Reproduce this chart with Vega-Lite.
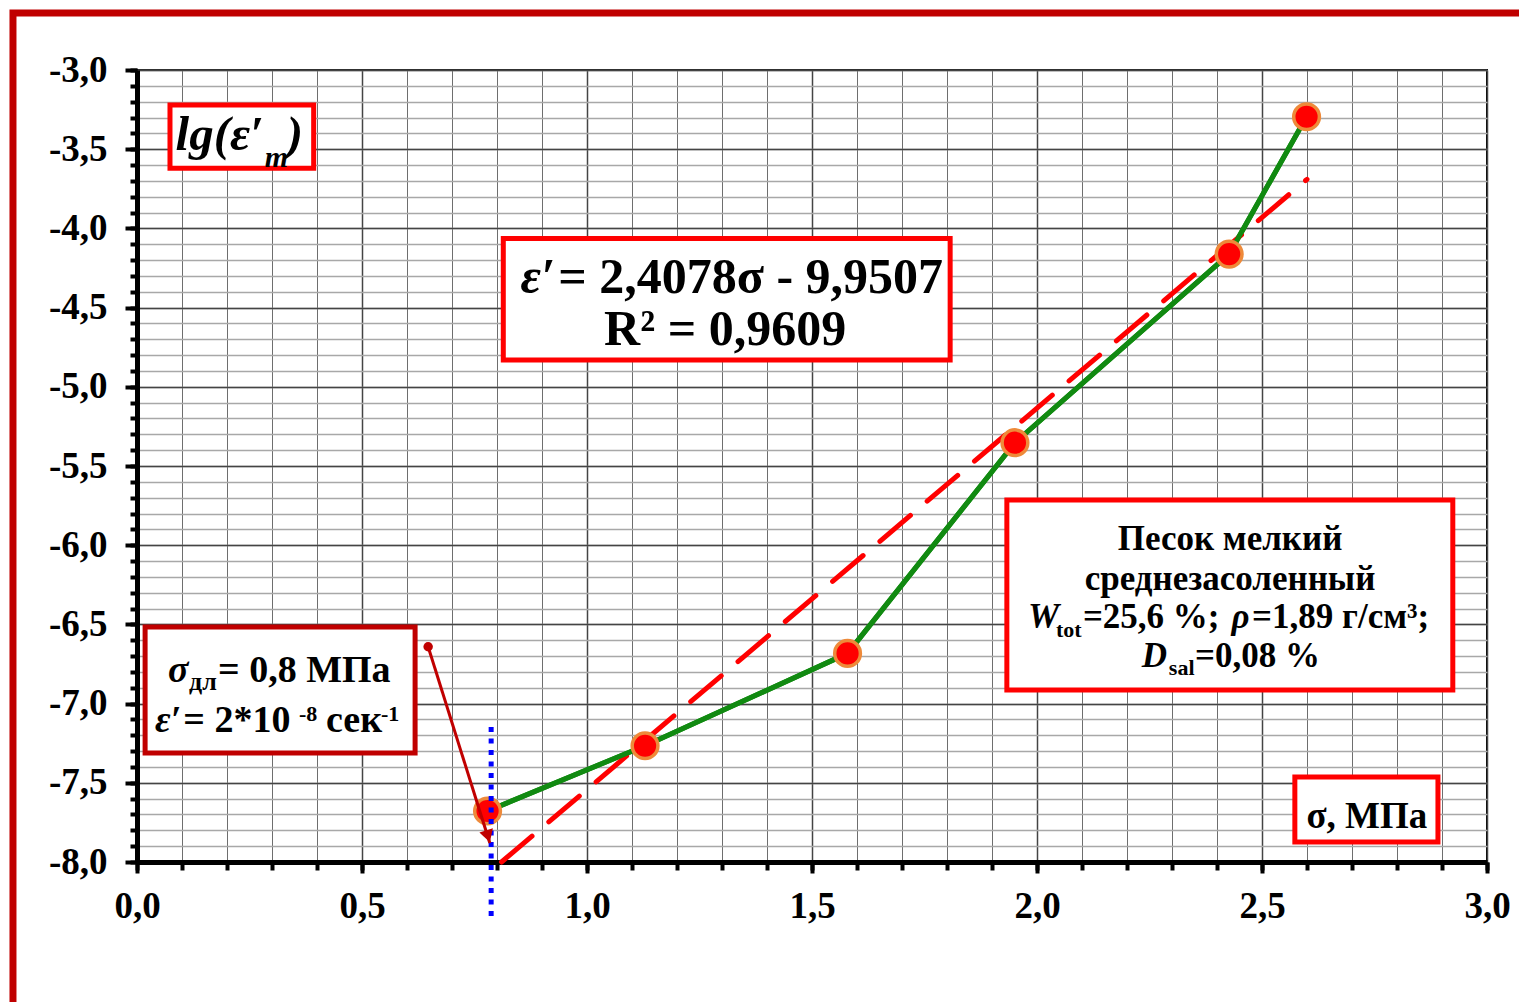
{
  "$schema": "https://vega.github.io/schema/vega-lite/v6.json",
  "width": 1350,
  "height": 792,
  "autosize": {"type": "none"},
  "padding": {"left": 137, "top": 70, "right": 32, "bottom": 140},
  "background": "white",
  "config": {
    "view": {"stroke": "#000", "strokeWidth": 2},
    "axis": {"labelFont": "Liberation Serif", "labelFontWeight": "bold", "labelFontSize": 37, "labelColor": "#000", "tickColor": "#000", "domainColor": "#000"}
  },
  "datasets": {
    "pts": [
      {"x": 0.779, "y": -7.678},
      {"x": 1.129, "y": -7.266},
      {"x": 1.579, "y": -6.683},
      {"x": 1.951, "y": -5.353},
      {"x": 2.427, "y": -4.162},
      {"x": 2.599, "y": -3.295}
    ],
    "trend": [{"x": 0.81, "y": -8.0}, {"x": 2.6, "y": -3.690}],
    "vline": [{"x": 0.787, "y": -7.148, "y2": -8.38}],
    "arrow": [{"x": 0.647, "y": -6.641, "x2": 0.784, "y2": -7.88, "hx": 0.780, "hy": -7.838}],
    "frame": [{"x": -0.2756, "x2": 3.12, "y": -2.6402, "y2": -9.1}],
    "boxes": [
      {"g": "b", "x": 0.0733, "x2": 0.3926, "y": -3.221, "y2": -3.621},
      {"g": "b", "x": 0.814, "x2": 1.807, "y": -4.063, "y2": -4.831},
      {"g": "b", "x": 1.933, "x2": 2.924, "y": -5.715, "y2": -6.914},
      {"g": "b", "x": 2.573, "x2": 2.891, "y": -7.463, "y2": -7.874},
      {"g": "d", "x": 0.018, "x2": 0.618, "y": -6.516, "y2": -7.312}
    ],
    "labels": [
      {"g": "e50L", "x": 0.936, "y": -4.408, "t": "= 2,4078σ - 9,9507"},
      {"g": "e50C", "x": 1.307, "y": -4.736, "t": "R² = 0,9609"},
      {"g": "e50IR", "x": 0.929, "y": -4.408, "t": "ε′"},
      {"g": "lgR", "x": 0.282, "y": -3.505, "t": "lg(ε′"},
      {"g": "lgL", "x": 0.333, "y": -3.505, "t": ")"},
      {"g": "lgS", "x": 0.284, "y": -3.612, "t": "m"},
      {"g": "s38I", "x": 0.0689, "y": -6.864, "t": "σ"},
      {"g": "s38I", "x": 0.04, "y": -7.179, "t": "ε′"},
      {"g": "s38", "x": 0.18, "y": -6.864, "t": "= 0,8 МПа"},
      {"g": "s38", "x": 0.103, "y": -7.179, "t": "= 2*10"},
      {"g": "s38", "x": 0.42, "y": -7.179, "t": "сек"},
      {"g": "s26", "x": 0.1156, "y": -6.914, "t": "дл"},
      {"g": "s22", "x": 0.36, "y": -7.11, "t": "-8"},
      {"g": "s22", "x": 0.542, "y": -7.11, "t": "-1"},
      {"g": "p35C", "x": 2.429, "y": -6.03, "t": "Песок мелкий"},
      {"g": "p35C", "x": 2.429, "y": -6.283, "t": "среднезасоленный"},
      {"g": "p35I", "x": 1.98, "y": -6.525, "t": "W"},
      {"g": "p35I", "x": 2.432, "y": -6.525, "t": "ρ"},
      {"g": "p35I", "x": 2.233, "y": -6.767, "t": "D"},
      {"g": "p35", "x": 2.102, "y": -6.525, "t": "=25,6 %;"},
      {"g": "p35", "x": 2.478, "y": -6.525, "t": "=1,89 г/см³;"},
      {"g": "p35", "x": 2.351, "y": -6.767, "t": "=0,08 %"},
      {"g": "p22", "x": 2.042, "y": -6.578, "t": "tot"},
      {"g": "p22", "x": 2.293, "y": -6.819, "t": "sal"},
      {"g": "u37C", "x": 2.733, "y": -7.785, "t": "σ, МПа"}
    ]
  },
  "resolve": {"axis": {"x": "independent", "y": "independent"}},
  "layer": [
    {
      "data": {"name": "frame"},
      "mark": {"type": "rect", "fill": "transparent", "stroke": "#c00000", "strokeWidth": 7, "clip": false},
      "encoding": {
        "x": {"field": "x", "type": "quantitative", "scale": {"domain": [0, 3], "nice": false, "zero": false},
          "axis": {"orient": "bottom", "values": [0,0.1,0.2,0.3,0.4,0.5,0.6,0.7,0.8,0.9,1,1.1,1.2,1.3,1.4,1.5,1.6,1.7,1.8,1.9,2,2.1,2.2,2.3,2.4,2.5,2.6,2.7,2.8,2.9,3], "tickSize": 8, "tickWidth": 4, "labels": false, "domain": false, "grid": true, "gridColor": "#6e6e6e", "gridWidth": 1, "title": null}},
        "x2": {"field": "x2"},
        "y": {"field": "y", "type": "quantitative", "scale": {"domain": [-8, -3], "nice": false, "zero": false},
          "axis": {"orient": "left", "values": [-8,-7.9,-7.8,-7.7,-7.6,-7.5,-7.4,-7.3,-7.2,-7.1,-7,-6.9,-6.8,-6.7,-6.6,-6.5,-6.4,-6.3,-6.2,-6.1,-6,-5.9,-5.8,-5.7,-5.6,-5.5,-5.4,-5.3,-5.2,-5.1,-5,-4.9,-4.8,-4.7,-4.6,-4.5,-4.4,-4.3,-4.2,-4.1,-4,-3.9,-3.8,-3.7,-3.6,-3.5,-3.4,-3.3,-3.2,-3.1,-3], "tickSize": 7, "tickWidth": 4, "labels": false, "domain": false, "grid": true, "gridColor": "#a8a8a8", "gridWidth": 1.5, "title": null}},
        "y2": {"field": "y2"}
      }
    },
    {
      "data": {"name": "pts"},
      "mark": {"type": "line", "color": "#118a11", "strokeWidth": 5},
      "encoding": {
        "x": {"field": "x", "type": "quantitative", "scale": {"domain": [0, 3], "nice": false, "zero": false},
          "axis": {"orient": "bottom", "values": [0,0.5,1,1.5,2,2.5,3], "tickSize": 11, "tickWidth": 4, "domain": true, "domainWidth": 5, "grid": true, "gridColor": "#444", "gridWidth": 1.5, "labelExpr": "replace(replace(format(datum.value,'.1f'),'.',','),'−','-')", "labelPadding": 15, "labelFlush": false, "labelOverlap": false, "title": null}},
        "y": {"field": "y", "type": "quantitative", "scale": {"domain": [-8, -3], "nice": false, "zero": false},
          "axis": {"orient": "left", "values": [-8,-7.5,-7,-6.5,-6,-5.5,-5,-4.5,-4,-3.5,-3], "tickSize": 12, "tickWidth": 4, "domain": true, "domainWidth": 5, "grid": true, "gridColor": "#444", "gridWidth": 1.5, "labelExpr": "replace(replace(format(datum.value,'.1f'),'.',','),'−','-')", "labelPadding": 18, "labelFlush": false, "labelOverlap": false, "title": null}}
      }
    },
    {
      "data": {"name": "boxes"},
      "transform": [{"filter": "datum.g == 'b'"}],
      "mark": {"type": "rect", "fill": "white", "stroke": "#ff0000", "strokeWidth": 5},
      "encoding": {
        "x": {"field": "x", "type": "quantitative", "axis": null}, "x2": {"field": "x2"},
        "y": {"field": "y", "type": "quantitative", "axis": null}, "y2": {"field": "y2"}
      }
    },
    {
      "data": {"name": "boxes"},
      "transform": [{"filter": "datum.g == 'd'"}],
      "mark": {"type": "rect", "fill": "white", "stroke": "#c00000", "strokeWidth": 5},
      "encoding": {
        "x": {"field": "x", "type": "quantitative", "axis": null}, "x2": {"field": "x2"},
        "y": {"field": "y", "type": "quantitative", "axis": null}, "y2": {"field": "y2"}
      }
    },
    {
      "data": {"name": "trend"},
      "mark": {"type": "line", "color": "#ff0000", "strokeWidth": 5, "strokeDash": [40, 22], "strokeCap": "round"},
      "encoding": {
        "x": {"field": "x", "type": "quantitative", "axis": null},
        "y": {"field": "y", "type": "quantitative", "axis": null}
      }
    },
    {
      "data": {"name": "pts"},
      "mark": {"type": "line", "color": "#118a11", "strokeWidth": 5},
      "encoding": {
        "x": {"field": "x", "type": "quantitative", "axis": null},
        "y": {"field": "y", "type": "quantitative", "axis": null}
      }
    },
    {
      "data": {"name": "pts"},
      "mark": {"type": "point", "shape": "circle", "filled": true, "fill": "#ff0000", "stroke": "#ee8a3a", "strokeWidth": 3.5, "size": 660, "opacity": 1},
      "encoding": {
        "x": {"field": "x", "type": "quantitative", "axis": null},
        "y": {"field": "y", "type": "quantitative", "axis": null}
      }
    },
    {
      "data": {"name": "vline"},
      "mark": {"type": "rule", "color": "#0000ff", "strokeWidth": 5, "strokeDash": [5, 6.5], "clip": false},
      "encoding": {
        "x": {"field": "x", "type": "quantitative", "axis": null},
        "y": {"field": "y", "type": "quantitative", "axis": null},
        "y2": {"field": "y2"}
      }
    },
    {
      "data": {"name": "arrow"},
      "mark": {"type": "rule", "color": "#c00000", "strokeWidth": 3},
      "encoding": {
        "x": {"field": "x", "type": "quantitative", "axis": null},
        "y": {"field": "y", "type": "quantitative", "axis": null},
        "x2": {"field": "x2"},
        "y2": {"field": "y2"}
      }
    },
    {
      "data": {"name": "arrow"},
      "mark": {"type": "point", "shape": "circle", "filled": true, "color": "#c00000", "size": 90, "opacity": 1},
      "encoding": {
        "x": {"field": "x", "type": "quantitative", "axis": null},
        "y": {"field": "y", "type": "quantitative", "axis": null}
      }
    },
    {
      "data": {"name": "arrow"},
      "mark": {"type": "point", "shape": "triangle-down", "filled": true, "color": "#c00000", "size": 200, "angle": 342.5, "opacity": 1},
      "encoding": {
        "x": {"field": "hx", "type": "quantitative", "axis": null},
        "y": {"field": "hy", "type": "quantitative", "axis": null}
      }
    },
    {
      "data": {"name": "labels"},
      "transform": [{"filter": "datum.g == 'e50L'"}],
      "mark": {"type": "text", "font": "Liberation Serif", "fontWeight": "bold", "fontSize": 50, "align": "left", "baseline": "alphabetic", "color": "#000"},
      "encoding": {"x": {"field": "x", "type": "quantitative", "axis": null}, "y": {"field": "y", "type": "quantitative", "axis": null}, "text": {"field": "t"}}
    },
    {
      "data": {"name": "labels"},
      "transform": [{"filter": "datum.g == 'e50C'"}],
      "mark": {"type": "text", "font": "Liberation Serif", "fontWeight": "bold", "fontSize": 50, "align": "center", "baseline": "alphabetic", "color": "#000"},
      "encoding": {"x": {"field": "x", "type": "quantitative", "axis": null}, "y": {"field": "y", "type": "quantitative", "axis": null}, "text": {"field": "t"}}
    },
    {
      "data": {"name": "labels"},
      "transform": [{"filter": "datum.g == 'e50IR'"}],
      "mark": {"type": "text", "font": "Liberation Serif", "fontWeight": "bold", "fontStyle": "italic", "fontSize": 50, "align": "right", "baseline": "alphabetic", "color": "#000"},
      "encoding": {"x": {"field": "x", "type": "quantitative", "axis": null}, "y": {"field": "y", "type": "quantitative", "axis": null}, "text": {"field": "t"}}
    },
    {
      "data": {"name": "labels"},
      "transform": [{"filter": "datum.g == 'lgR'"}],
      "mark": {"type": "text", "font": "Liberation Serif", "fontWeight": "bold", "fontStyle": "italic", "fontSize": 49, "align": "right", "baseline": "alphabetic", "color": "#000"},
      "encoding": {"x": {"field": "x", "type": "quantitative", "axis": null}, "y": {"field": "y", "type": "quantitative", "axis": null}, "text": {"field": "t"}}
    },
    {
      "data": {"name": "labels"},
      "transform": [{"filter": "datum.g == 'lgL'"}],
      "mark": {"type": "text", "font": "Liberation Serif", "fontWeight": "bold", "fontStyle": "italic", "fontSize": 49, "align": "left", "baseline": "alphabetic", "color": "#000"},
      "encoding": {"x": {"field": "x", "type": "quantitative", "axis": null}, "y": {"field": "y", "type": "quantitative", "axis": null}, "text": {"field": "t"}}
    },
    {
      "data": {"name": "labels"},
      "transform": [{"filter": "datum.g == 'lgS'"}],
      "mark": {"type": "text", "font": "Liberation Serif", "fontWeight": "bold", "fontStyle": "italic", "fontSize": 30, "align": "left", "baseline": "alphabetic", "color": "#000"},
      "encoding": {"x": {"field": "x", "type": "quantitative", "axis": null}, "y": {"field": "y", "type": "quantitative", "axis": null}, "text": {"field": "t"}}
    },
    {
      "data": {"name": "labels"},
      "transform": [{"filter": "datum.g == 's38I'"}],
      "mark": {"type": "text", "font": "Liberation Serif", "fontWeight": "bold", "fontStyle": "italic", "fontSize": 38, "align": "left", "baseline": "alphabetic", "color": "#000"},
      "encoding": {"x": {"field": "x", "type": "quantitative", "axis": null}, "y": {"field": "y", "type": "quantitative", "axis": null}, "text": {"field": "t"}}
    },
    {
      "data": {"name": "labels"},
      "transform": [{"filter": "datum.g == 's38'"}],
      "mark": {"type": "text", "font": "Liberation Serif", "fontWeight": "bold", "fontSize": 38, "align": "left", "baseline": "alphabetic", "color": "#000"},
      "encoding": {"x": {"field": "x", "type": "quantitative", "axis": null}, "y": {"field": "y", "type": "quantitative", "axis": null}, "text": {"field": "t"}}
    },
    {
      "data": {"name": "labels"},
      "transform": [{"filter": "datum.g == 's26'"}],
      "mark": {"type": "text", "font": "Liberation Serif", "fontWeight": "bold", "fontSize": 26, "align": "left", "baseline": "alphabetic", "color": "#000"},
      "encoding": {"x": {"field": "x", "type": "quantitative", "axis": null}, "y": {"field": "y", "type": "quantitative", "axis": null}, "text": {"field": "t"}}
    },
    {
      "data": {"name": "labels"},
      "transform": [{"filter": "datum.g == 's22'"}],
      "mark": {"type": "text", "font": "Liberation Serif", "fontWeight": "bold", "fontSize": 22, "align": "left", "baseline": "alphabetic", "color": "#000"},
      "encoding": {"x": {"field": "x", "type": "quantitative", "axis": null}, "y": {"field": "y", "type": "quantitative", "axis": null}, "text": {"field": "t"}}
    },
    {
      "data": {"name": "labels"},
      "transform": [{"filter": "datum.g == 'p35C'"}],
      "mark": {"type": "text", "font": "Liberation Serif", "fontWeight": "bold", "fontSize": 35, "align": "center", "baseline": "alphabetic", "color": "#000"},
      "encoding": {"x": {"field": "x", "type": "quantitative", "axis": null}, "y": {"field": "y", "type": "quantitative", "axis": null}, "text": {"field": "t"}}
    },
    {
      "data": {"name": "labels"},
      "transform": [{"filter": "datum.g == 'p35I'"}],
      "mark": {"type": "text", "font": "Liberation Serif", "fontWeight": "bold", "fontStyle": "italic", "fontSize": 35, "align": "left", "baseline": "alphabetic", "color": "#000"},
      "encoding": {"x": {"field": "x", "type": "quantitative", "axis": null}, "y": {"field": "y", "type": "quantitative", "axis": null}, "text": {"field": "t"}}
    },
    {
      "data": {"name": "labels"},
      "transform": [{"filter": "datum.g == 'p35'"}],
      "mark": {"type": "text", "font": "Liberation Serif", "fontWeight": "bold", "fontSize": 35, "align": "left", "baseline": "alphabetic", "color": "#000"},
      "encoding": {"x": {"field": "x", "type": "quantitative", "axis": null}, "y": {"field": "y", "type": "quantitative", "axis": null}, "text": {"field": "t"}}
    },
    {
      "data": {"name": "labels"},
      "transform": [{"filter": "datum.g == 'p22'"}],
      "mark": {"type": "text", "font": "Liberation Serif", "fontWeight": "bold", "fontSize": 22, "align": "left", "baseline": "alphabetic", "color": "#000"},
      "encoding": {"x": {"field": "x", "type": "quantitative", "axis": null}, "y": {"field": "y", "type": "quantitative", "axis": null}, "text": {"field": "t"}}
    },
    {
      "data": {"name": "labels"},
      "transform": [{"filter": "datum.g == 'u37C'"}],
      "mark": {"type": "text", "font": "Liberation Serif", "fontWeight": "bold", "fontSize": 37, "align": "center", "baseline": "alphabetic", "color": "#000"},
      "encoding": {"x": {"field": "x", "type": "quantitative", "axis": null}, "y": {"field": "y", "type": "quantitative", "axis": null}, "text": {"field": "t"}}
    }
  ]
}
